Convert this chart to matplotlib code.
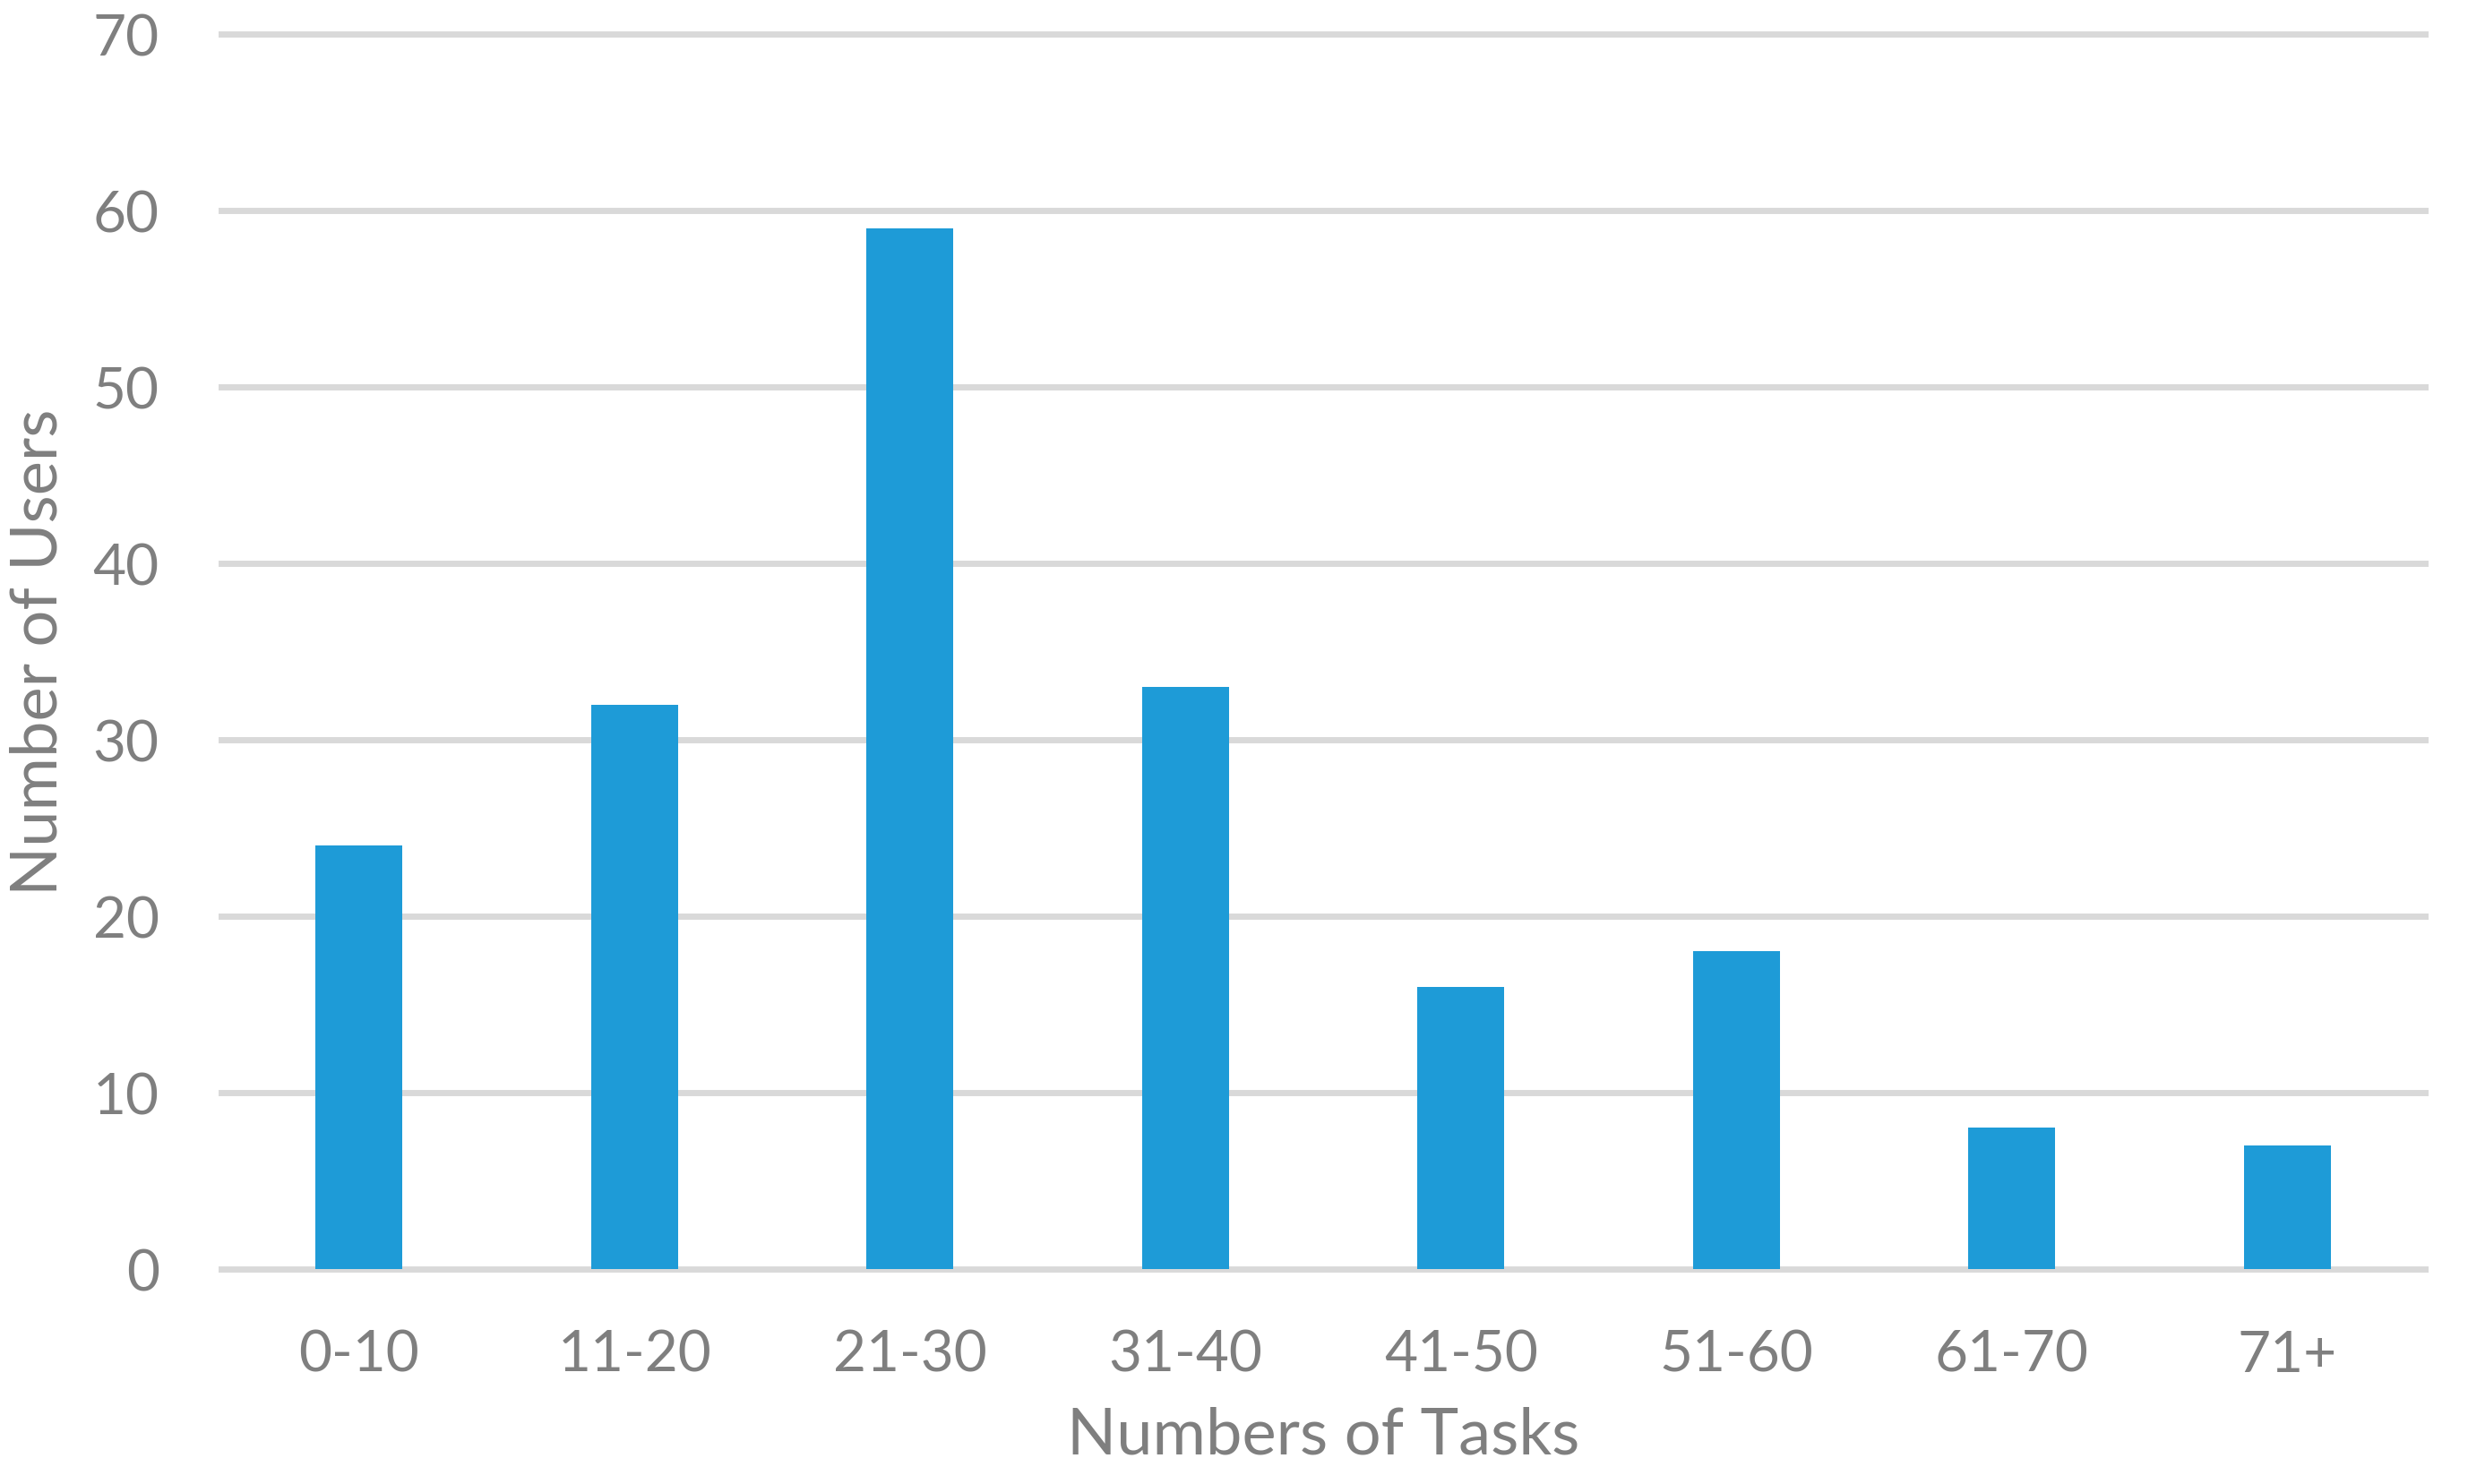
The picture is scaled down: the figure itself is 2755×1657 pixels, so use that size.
import matplotlib.pyplot as plt
import numpy as np

# Data
categories = ['0-10', '11-20', '21-30', '31-40', '41-50', '51-60', '61-70', '71+']
users = [24, 32, 59, 33, 16, 18, 8, 7]
yticks = [0, 10, 20, 30, 40, 50, 60, 70]

plt.rcParams['font.family'] = ['Lato', 'DejaVu Sans']
text_color = '#7F7F7F'
grid_color = '#D9D9D9'
bar_color = '#1E9BD7'

fig = plt.figure(figsize=(27.55, 16.58), dpi=100)
ax = fig.add_axes([0.0897, 0.1448, 0.8929, 0.8317])

x = np.arange(len(categories))
ax.bar(x, users, width=0.315, color=bar_color, zorder=2)

ax.set_xlim(-0.5, len(categories) - 0.5)
ax.set_ylim(0, 70)
ax.set_yticks(yticks)
ax.set_xticks(x)
ax.set_xticklabels(categories)

for y in yticks:
    ax.axhline(y, color=grid_color, linewidth=5, zorder=1, clip_on=False)

for s in ax.spines.values():
    s.set_visible(False)
ax.tick_params(axis='both', length=0, labelsize=46, colors=text_color)
ax.tick_params(axis='y', pad=50)
ax.tick_params(axis='x', pad=48)

ax.set_xlabel('Numbers of Tasks', fontsize=52, color=text_color, labelpad=20)
ax.set_ylabel('Number of Users', fontsize=52, color=text_color, labelpad=20)

fig.savefig('out.png', dpi=100)
